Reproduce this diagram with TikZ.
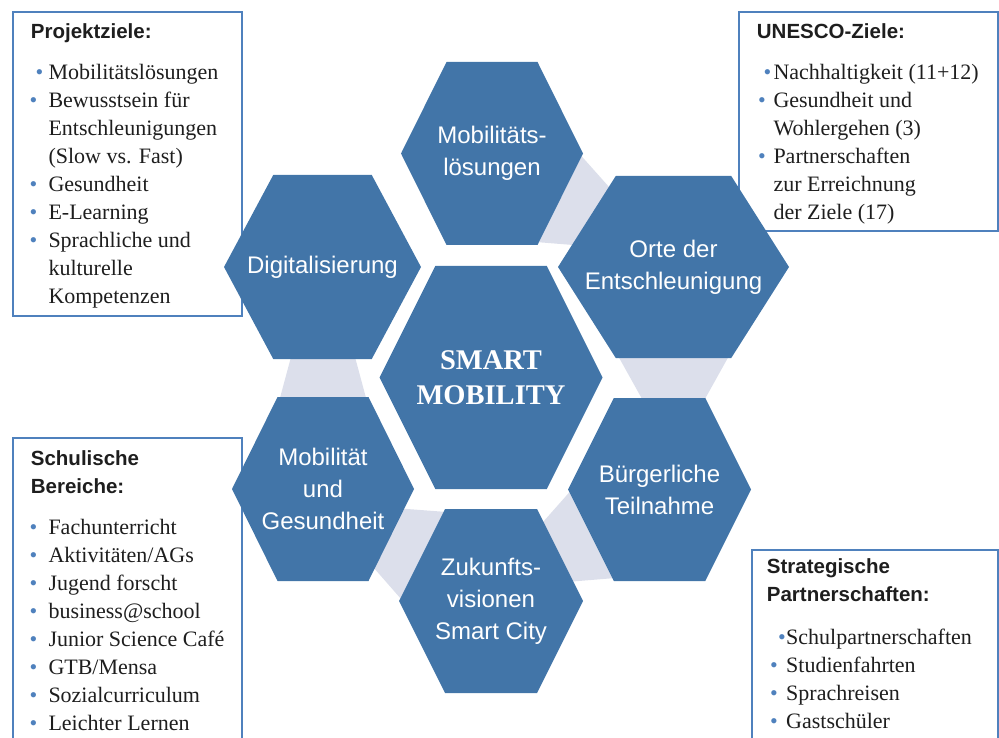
\documentclass[tikz,border=0pt]{standalone}
\usepackage{fontspec}
\setmainfont{Liberation Serif}
\setsansfont{Liberation Sans}
\usetikzlibrary{calc}

\definecolor{cellblue}{RGB}{66,117,168}
\definecolor{linkgray}{RGB}{220,223,235}
\definecolor{frameblue}{RGB}{79,129,189}
\definecolor{dotblue}{RGB}{79,129,189}
\definecolor{inkgray}{RGB}{30,30,30}

% bullet hanging left of the line
\newcommand{\itm}[1][11.2pt]{\llap{\textcolor{dotblue}{\textbullet}\hspace{#1}}}

% corners 0..5 of a flat-top hexagon, clockwise from the right point
\newcommand{\hexcorners}[5]{%
  \coordinate (#1-c) at (#2,#3);
  \foreach \k/\dx/\dy in {0/1/0,1/0.5/1,2/-0.5/1,3/-1/0,4/-0.5/-1,5/0.5/-1}
    \coordinate (#1-\k) at ($(#1-c)+(\dx*#4,\dy*#5)$);
}
\newcommand{\hexcell}[1]{\fill[cellblue] (#1-0) -- (#1-1) -- (#1-2) -- (#1-3) -- (#1-4) -- (#1-5) -- cycle;}
% tapered band leaving edge #2-#3 of cell #1 and running into cell #4
\newcommand{\hexlink}[4]{%
  \fill[linkgray] ($(#1-#2)!0.03!(#1-#3)$)
    -- ($(#1-#2)!0.5!(#1-#3)!32pt!(#1-#2)!40pt!-90:(#1-#2)$)
    -- (#4-c)
    -- ($(#1-#2)!0.5!(#1-#3)!32pt!(#1-#3)!40pt!90:(#1-#3)$)
    -- ($(#1-#2)!0.97!(#1-#3)$) -- cycle;}

\tikzset{
  frame/.style={draw=frameblue, line width=1.2pt},
  boxhead/.style={anchor=base west, inner sep=0pt, text=inkgray,
    font=\sffamily\bfseries\fontsize{20.5}{28}\selectfont},
  listline/.style={anchor=base west, inner sep=0pt, text=inkgray,
    font=\fontsize{22}{28}\selectfont},
  celltext/.style={align=center, text=white,
    font=\sffamily\fontsize{24}{32}\selectfont},
  hubtext/.style={align=center, text=white,
    font=\rmfamily\bfseries\fontsize{28.5}{35}\selectfont}
}

\begin{document}
\begin{tikzpicture}[x=1pt, y=-1pt]
    \useasboundingbox (0,0) rectangle (999,738);
    \clip (0,0) rectangle (999,738);

    \draw[frame] (13,12) rectangle (242,316);
    \draw[frame] (739,12) rectangle (998,231);
    \draw[frame] (13,438) rectangle (242,760);
    \draw[frame] (752,550) rectangle (998,760);

    \node[boxhead] (ziel-head) at (30.7,39) {Projektziele:};
    \foreach \txt [count=\i] in {{\itm[5.2pt]Mobilitätslösungen},{\itm Bewusstsein für},
        {Entschleunigungen},{(Slow vs. Fast)},{\itm Gesundheit},{\itm E-Learning},
        {\itm Sprachliche und},{kulturelle},{Kompetenzen}}
      \node[listline] (ziel-\i) at (48.3,{79.3+28*(\i-1)}) {\txt};

    \node[boxhead] (unesco-head) at (756.7,38.3) {UNESCO-Ziele:};
    \foreach \txt [count=\i] in {{\itm[2.2pt]Nachhaltigkeit (11+12)},{\itm[7.8pt]Gesundheit und},
        {Wohlergehen (3)},{\itm[7.8pt]Partnerschaften},{zur Erreichnung},{der Ziele (17)}}
      \node[listline] (unesco-\i) at (773.3,{79.3+28*(\i-1)}) {\txt};

    \node[boxhead] (schule-head) at (30.7,465) {Schulische};
    \node[boxhead] (schule-head2) at (30.7,493) {Bereiche:};
    \foreach \txt [count=\i] in {Fachunterricht,Aktivitäten/AGs,Jugend forscht,business@school,
        Junior Science Café,GTB/Mensa,Sozialcurriculum,Leichter Lernen}
      \node[listline] (schule-\i) at (48.3,{534+28*(\i-1)}) {\itm \txt};

    \node[boxhead] (partner-head) at (766.7,573.3) {Strategische};
    \node[boxhead] (partner-head2) at (766.7,601.7) {Partnerschaften:};
    \foreach \txt [count=\i] in {{\itm[0.5pt]Schulpartnerschaften},{\itm[8.5pt]Studienfahrten},
        {\itm[8.5pt]Sprachreisen},{\itm[8.5pt]Gastschüler}}
      \node[listline] (partner-\i) at (786,{644.3+28*(\i-1)}) {\txt};

    \hexcorners{mob}{492}{153.5}{91}{91.5}
    \hexcorners{orte}{673.5}{267}{115.5}{91}
    \hexcorners{digi}{322.5}{267}{98.5}{92}
    \hexcorners{hub}{491}{377.5}{111.5}{111.5}
    \hexcorners{mug}{323}{489}{91}{92}
    \hexcorners{buerg}{659.5}{489.5}{91.5}{91.5}
    \hexcorners{zuk}{491}{601}{92}{92}

    \hexlink{mob}{0}{1}{orte}
    \hexlink{orte}{1}{2}{buerg}
    \hexlink{buerg}{2}{3}{zuk}
    \hexlink{zuk}{3}{4}{mug}
    \hexlink{mug}{4}{5}{digi}

    \foreach \c in {mob,orte,digi,hub,mug,buerg,zuk}
      {\hexcell{\c}}

    \node[hubtext] (hub) at (hub-c) {SMART\\MOBILITY};
    \node[celltext] (mob) at (mob-c) {Mobilitäts-\\lösungen};
    \node[celltext] (orte) at (orte-c) {Orte der\\Entschleunigung};
    \node[celltext] (digi) at (digi-c) {Digitalisierung};
    \node[celltext] (mug) at (mug-c) {Mobilität\\und\\Gesundheit};
    \node[celltext] (buerg) at (buerg-c) {Bürgerliche\\Teilnahme};
    \node[celltext] (zuk) at (zuk-c) {Zukunfts-\\visionen\\Smart City};
\end{tikzpicture}
\end{document}
